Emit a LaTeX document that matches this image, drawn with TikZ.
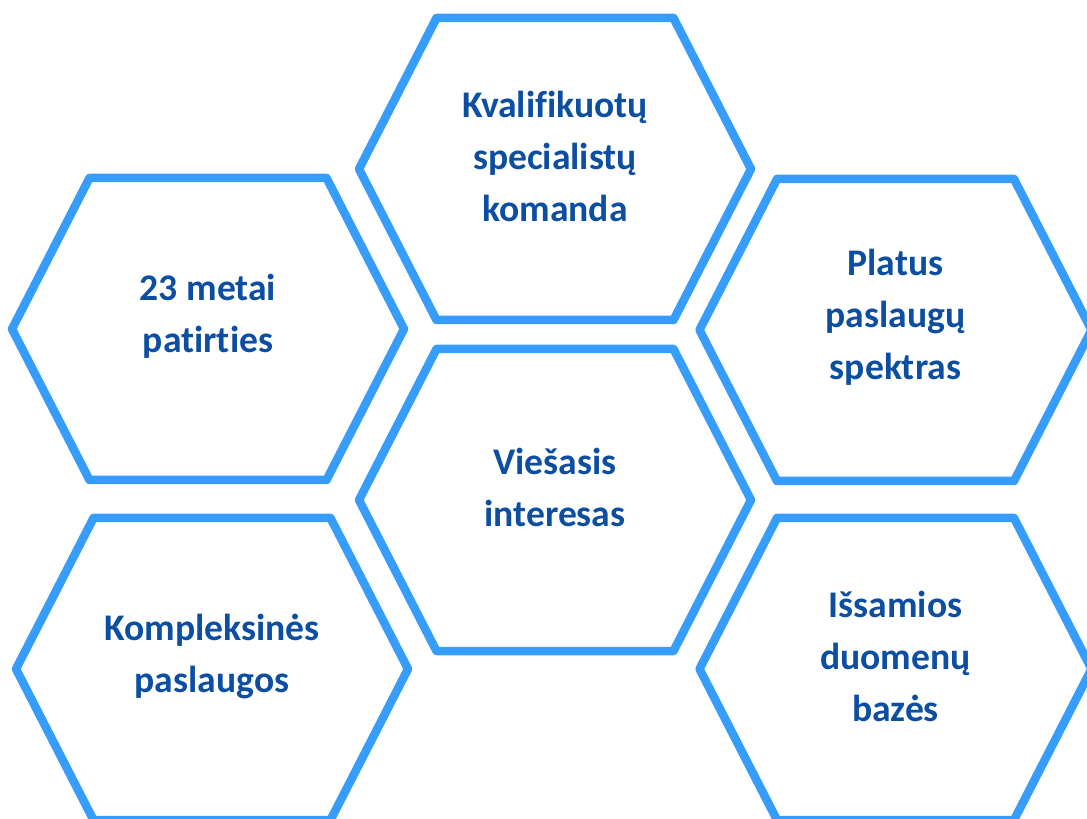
\documentclass[tikz,border=0pt]{standalone}
\usepackage{fontspec}
\setmainfont[Ligatures=NoCommon]{Carlito}
\usetikzlibrary{calc}
\definecolor{hexBlue}{RGB}{55,157,252}
\definecolor{hexText}{RGB}{12,78,162}

\begin{document}
\begin{tikzpicture}[
  hexline/.style={draw=hexBlue,line width=0.17cm,line join=round},
  celltext/.style={text=hexText,font=\bfseries\fontsize{21.4}{29.6}\selectfont,align=center,yshift=0.26cm}
]
\useasboundingbox (0,0) rectangle (21.74,-16.38);
\clip (0,0) rectangle (21.74,-16.38);

% hexagon centres
\coordinate (hTeam) at (11.10,-3.38);
\coordinate (hExp) at (4.16,-6.58);
\coordinate (hRange) at (17.91,-6.60);
\coordinate (hPublic) at (11.10,-10.00);
\coordinate (hComplex) at (4.24,-13.38);
\coordinate (hData) at (17.91,-13.38);

\foreach \c in {hTeam,hExp,hRange,hPublic,hComplex,hData}{
  \draw[hexline] ($(\c)+(-3.92,0)$) -- ++(1.55,3.02) -- ++(4.74,0) -- ++(1.55,-3.02) -- ++(-1.55,-3.02) -- ++(-4.74,0) -- cycle;
}

\node[celltext] (team) at (hTeam) {Kvalifikuotų\\specialistų\\komanda};
\node[celltext] (exp) at (hExp) {23 metai\\patirties};
\node[celltext] (range) at (hRange) {Platus\\paslaugų\\spektras};
\node[celltext] (public) at (hPublic) {Viešasis\\interesas};
\node[celltext] (complex) at (hComplex) {Kompleksinės\\paslaugos};
\node[celltext] (data) at (hData) {Išsamios\\duomenų\\bazės};
\end{tikzpicture}
\end{document}
